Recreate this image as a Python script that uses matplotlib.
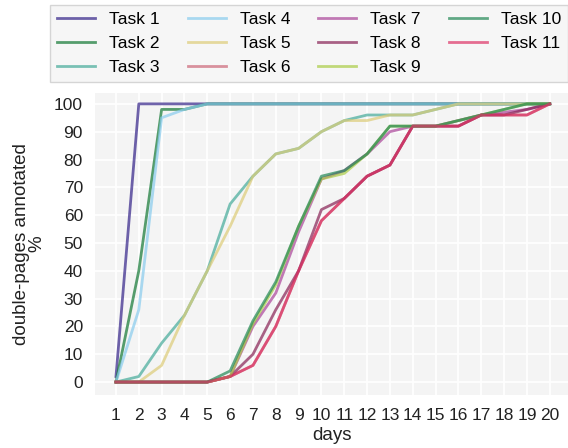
import numpy as np
import matplotlib
matplotlib.use("Agg")
import matplotlib.pyplot as plt

plt.rcParams['font.family'] = ['Liberation Sans', 'DejaVu Sans']

days = list(range(1, 21))

task1 = [2] + [100] * 19
task2 = [0, 40, 98, 98] + [100] * 16
task3 = [0, 2, 14, 24, 40, 64, 74, 82, 84, 90, 94, 96, 96, 96, 98, 100, 100, 100, 100, 100]
task4 = [0, 26, 95, 98] + [100] * 16
task5 = [0, 0, 6, 24, 40, 56, 74, 82, 84, 90, 94, 94, 96, 96, 98, 100, 100, 100, 100, 100]
task6 = [0, 0, 0, 0, 0, 2, 6, 20, 40, 58, 66, 74, 78, 92, 92, 92, 96, 96, 96, 100]
task7 = [0, 0, 0, 0, 0, 2, 20, 32, 54, 73, 76, 82, 90, 92, 92, 94, 96, 97, 98, 100]
task8 = [0, 0, 0, 0, 0, 2, 10, 26, 40, 62, 66, 74, 78, 92, 92, 92, 96, 96, 98, 100]
task9 = [0, 0, 0, 0, 0, 2, 21, 35, 56, 73, 75, 82, 92, 92, 92, 94, 96, 98, 100, 100]
task10 = [0, 0, 0, 0, 0, 4, 22, 36, 56, 74, 76, 82, 92, 92, 92, 94, 96, 98, 100, 100]
task11 = [0, 0, 0, 0, 0, 2, 6, 20, 40, 58, 66, 74, 78, 92, 92, 92, 96, 96, 96, 100]

tasks = [task1, task2, task3, task4, task5, task6, task7, task8, task9, task10, task11]
labels = ['Task %d' % (i + 1) for i in range(len(tasks))]
colors = ['#332288', '#117733', '#44AA99', '#88CCEE', '#DDCC77', '#CC6677',
          '#AA4499', '#882255', '#AACC44', '#228855', '#DD3366']

fig = plt.figure(figsize=(5.68, 4.48), dpi=100)
ax = fig.add_axes([0.168, 0.118, 0.832, 0.675])
ax.set_facecolor('#f4f4f4')

for vals, lab, c in zip(tasks, labels, colors):
    ax.plot(days, vals, color=c, alpha=0.7, lw=2, label=lab)

ax.set_xticks(days)
ax.set_yticks(range(0, 101, 10))
ax.set_xlim(0.1, 20.8)
ax.set_ylim(-4.7, 104)
ax.grid(True, color='white', lw=1.2)
ax.set_axisbelow(True)
for s in ax.spines.values():
    s.set_visible(False)
ax.tick_params(length=0, labelsize=12.5, colors='#222222', pad=9)
ax.set_xlabel('days', fontsize=13.5, color='#222222', labelpad=3)
ax.set_ylabel('double-pages annotated\n%', fontsize=13.5, color='#222222', labelpad=6,
              linespacing=0.9)

fig.legend(loc='upper left', bbox_to_anchor=(0.088, 0.81, 0.912, 0.178), ncol=4,
           mode='expand', fontsize=12.5, frameon=True, facecolor='#f4f4f4',
           edgecolor='#cccccc', handlelength=2.2, borderaxespad=0,
           labelspacing=0.5, columnspacing=1.0, fancybox=False, borderpad=0.4)

fig.savefig('out.png', dpi=100)
